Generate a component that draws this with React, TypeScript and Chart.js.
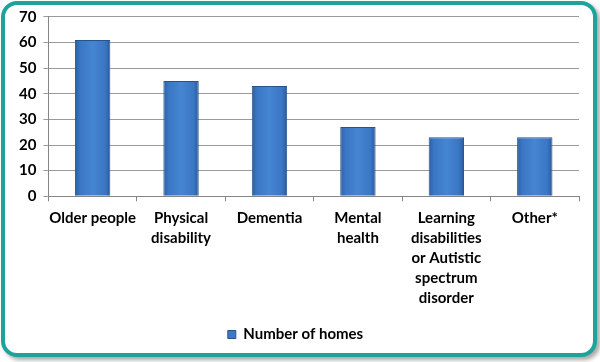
import React, { useEffect, useRef } from "react";
import { Chart, registerables } from "chart.js";

Chart.register(...registerables);

const categories: (string | string[])[] = [
  "Older people",
  ["Physical", "disability"],
  "Dementia",
  ["Mental", "health"],
  ["Learning", "disabilities", "or Autistic", "spectrum", "disorder"],
  "Other*",
];
const seriesName = "Number of homes";
const homes = [61, 45, 43, 27, 23, 23];
const yMin = 0;
const yMax = 70;
const yStep = 10;

export default function App() {
  const ref = useRef<HTMLCanvasElement | null>(null);
  useEffect(() => {
    if (!ref.current) return;
    const family = "Lato, 'Open Sans', sans-serif";
    const font = { family, size: 15, weight: "bold" as const, lineHeight: 1.33 };
    const chart = new Chart(ref.current, {
      type: "bar",
      data: {
        labels: categories,
        datasets: [
          {
            label: seriesName,
            data: homes,
            backgroundColor: (c: any) => {
              const ch = c.chart;
              const xs = ch.scales?.x;
              if (!xs || c.type !== "data") return "#3d7ac6";
              const cx = xs.getPixelForValue(c.dataIndex);
              if (!Number.isFinite(cx)) return "#3d7ac6";
              const g = ch.ctx.createLinearGradient(cx - 18, 0, cx + 18, 0);
              g.addColorStop(0, "#2c5c9e");
              g.addColorStop(0.15, "#3a76c4");
              g.addColorStop(0.5, "#4585d2");
              g.addColorStop(0.85, "#3a76c4");
              g.addColorStop(1, "#2a5896");
              return g;
            },
            borderColor: "#28528c",
            borderWidth: 1,
            barPercentage: 0.8,
            categoryPercentage: 0.5,
          },
        ],
      },
      options: {
        responsive: false,
        animation: false,
        maintainAspectRatio: false,
        layout: { padding: { left: 12, right: 21, top: 16, bottom: 10 } },
        plugins: {
          legend: {
            display: true,
            position: "bottom",
            labels: {
              font: { family, size: 15, weight: "bold" },
              color: "#000",
              boxWidth: 8,
              boxHeight: 8,
              padding: 12,
              generateLabels: () => [
                {
                  text: seriesName,
                  fillStyle: "#3d7ac6",
                  strokeStyle: "#28528c",
                  lineWidth: 1,
                  hidden: false,
                  datasetIndex: 0,
                  fontColor: "#000",
                },
              ],
            },
          },
          tooltip: { enabled: false },
        },
        scales: {
          x: {
            offset: true,
            grid: {
              offset: true,
              drawOnChartArea: false,
              drawTicks: true,
              tickLength: 5,
              color: "#868686",
            },
            border: { color: "#868686", width: 1 },
            ticks: {
              font,
              color: "#000",
              maxRotation: 0,
              autoSkip: false,
              padding: 7,
            },
          },
          y: {
            min: yMin,
            max: yMax,
            ticks: { stepSize: yStep, font, color: "#000", padding: 7 },
            grid: { color: "#9a9a9a", tickLength: 5 },
            border: { color: "#868686", width: 1 },
          },
        },
      },
    } as any);
    return () => chart.destroy();
  }, []);
  return (
    <div style={{ position: "absolute", left: 0, top: 0, width: 600, height: 362, background: "#fff" }}>
      <div
        style={{
          position: "absolute",
          left: 1,
          top: 1,
          width: 588,
          height: 348,
          border: "4px solid #1ca49c",
          borderRadius: 16,
          boxShadow: "3px 3px 4px rgba(0,0,0,0.35)",
          background: "#fff",
        }}
      />
      <canvas ref={ref} width={600} height={362} style={{ position: "absolute", left: 0, top: 0 }} />
    </div>
  );
}
